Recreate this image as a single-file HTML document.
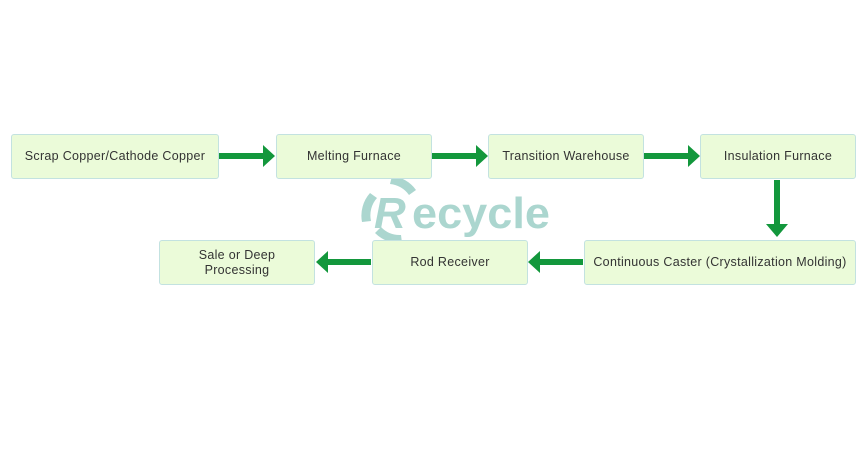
<!DOCTYPE html>
<html><head><style>
body{margin:0;width:868px;height:456px;background:#fff;position:relative;overflow:hidden;font-family:"Liberation Sans",sans-serif}
.b{position:absolute;box-sizing:border-box;background:#ebfbd9;border:1.5px solid #c3e2e0;border-radius:3px;display:flex;align-items:center;justify-content:center;text-align:center;font-size:12.5px;color:#333;letter-spacing:0.3px;line-height:15px}
svg{position:absolute;left:0;top:0}
</style></head><body>
<svg width="868" height="456">
<g fill="#5aaea0" opacity="0.5">
<path d="M392 176 A34 34 0 0 1 416 190 L409 195 A26 26 0 0 0 390 184Z"/>
<path d="M370 193 A34 34 0 0 0 362 222 L371 221 A26 26 0 0 1 377 198Z"/>
<path d="M375 233 A34 34 0 0 0 402 243 L401 235 A26 26 0 0 1 381 227Z"/>
<text x="374" y="228" font-family="Liberation Sans" font-weight="bold" font-style="italic" font-size="44">R</text>
<text x="412" y="228" font-family="Liberation Sans" font-weight="bold" font-size="44" textLength="138" lengthAdjust="spacingAndGlyphs">ecycle</text>
</g>
<g fill="#13973c">
<path d="M219 153h44v-8l12 11l-12 11v-8h-44z"/>
<path d="M432 153h44v-8l12 11l-12 11v-8h-44z"/>
<path d="M644 153h44v-8l12 11l-12 11v-8h-44z"/>
<path d="M774 180h6v44h8l-11 13l-11-13h8z"/>
<path d="M583 259h-43v-8l-12 11l12 11v-8h43z"/>
<path d="M371 259h-43v-8l-12 11l12 11v-8h43z"/>
</g>
</svg>
<div class="b" style="left:11px;top:134px;width:208px;height:45px">Scrap Copper/Cathode Copper</div>
<div class="b" style="left:276px;top:134px;width:156px;height:45px">Melting Furnace</div>
<div class="b" style="left:488px;top:134px;width:156px;height:45px">Transition Warehouse</div>
<div class="b" style="left:700px;top:134px;width:156px;height:45px">Insulation Furnace</div>
<div class="b" style="left:584px;top:240px;width:272px;height:45px">Continuous Caster (Crystallization Molding)</div>
<div class="b" style="left:372px;top:240px;width:156px;height:45px">Rod Receiver</div>
<div class="b" style="left:159px;top:240px;width:156px;height:45px">Sale or Deep<br>Processing</div>
</body></html>
